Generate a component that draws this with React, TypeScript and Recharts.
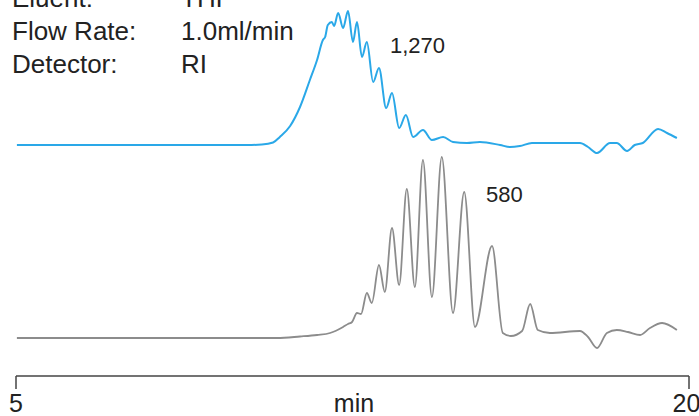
import { LineChart, Line, XAxis, YAxis, Customized } from "recharts";

// retention time (min) and detector signal above each trace's own baseline
const blueTime = [
  5.02, 10.15, 10.48, 10.73, 10.88, 11.11, 11.33, 11.55, 11.71, 11.84, 11.89, 11.95, 12.04, 12.09,
  12.18, 12.29, 12.4, 12.51, 12.6, 12.71, 12.82, 12.96, 13.09, 13.25, 13.38, 13.54, 13.69, 13.85, 14.07,
  14.27, 14.52, 14.74, 15.05, 15.34, 15.79, 16.01, 16.23, 16.5, 17.57, 17.75, 17.95, 18.24, 18.39, 18.62,
  18.79, 18.97, 19.31, 19.51, 19.73,
];
const blueSignal = [
  0, 0, 0.5, 2.5, 8, 19, 38, 65, 85, 105, 108, 120, 123, 119,
  132, 117, 134, 103, 123, 88, 103, 63, 77, 37, 52, 17, 30, 8, 15,
  5, 8, 3, 2, 3, 0, -2, -1, 2, 2, -2, -8, 2, 2, -6,
  0, 2, 16, 12, 7,
];

const grayTime = [
  5.02, 10.82, 11.33, 11.71, 12.0, 12.29, 12.4, 12.49, 12.6, 12.69, 12.82, 12.93, 13.09, 13.22, 13.38,
  13.54, 13.71, 13.89, 14.07, 14.27, 14.49, 14.74, 14.99, 15.23, 15.61, 15.85, 16.03, 16.28, 16.46, 16.63,
  16.9, 17.57, 17.75, 17.95, 18.17, 18.39, 18.64, 18.91, 19.13, 19.4, 19.73,
];
const graySignal = [
  0, 0, 1.5, 3, 5, 11, 14, 16, 25, 24, 45, 35, 73, 46, 110,
  53, 149, 51, 178, 41, 181, 25, 146, 11, 92, 5, 2, 7, 34, 8,
  5, 7, 1, -10, 5, 8, 6, 3, 10, 15, 8,
];

const xTicks = [5, 20];
const methodLabels = ["Eluent:", "Flow Rate:", "Detector:"];
const methodValues = ["THF", "1.0ml/min", "RI"];
const peakLabels = ["1,270", "580"];

const BLUE_BASE = 231;
const GRAY_BASE = 38;
const FONT = "'Liberation Sans', Arial, Helvetica, sans-serif";

const blueData = blueTime.map((t, i) => ({ t, v: blueSignal[i] + BLUE_BASE }));
const grayData = grayTime.map((t, i) => ({ t, v: graySignal[i] + GRAY_BASE }));

function Notes() {
  return (
    <g fontFamily={FONT} fill="#222">
      {methodLabels.map((m, i) => (
        <text key={m} x={12} y={7 + i * 33} fontSize={26}>
          {m}
        </text>
      ))}
      {methodValues.map((m, i) => (
        <text key={m} x={181} y={7 + i * 33} fontSize={26}>
          {m}
        </text>
      ))}
      <text x={390} y={53} fontSize={22}>
        {peakLabels[0]}
      </text>
      <text x={486} y={202} fontSize={22}>
        {peakLabels[1]}
      </text>
      <text x={354} y={412} fontSize={25} textAnchor="middle">
        min
      </text>
    </g>
  );
}

export default function App() {
  return (
    <div style={{ position: "absolute", left: 0, top: 0, fontFamily: FONT }}>
      <LineChart width={699} height={416} margin={{ top: 0, right: 10, bottom: 0, left: 16 }}>
        <XAxis
          dataKey="t"
          type="number"
          domain={[5, 20]}
          ticks={xTicks}
          allowDataOverflow
          height={40}
          tickSize={13}
          tickMargin={5}
          stroke="#444"
          strokeWidth={1.5}
          tick={{ fontSize: 25, fill: "#222", fontFamily: FONT }}
        />
        <YAxis hide domain={[0, 376]} type="number" allowDataOverflow />
        <Line
          data={blueData}
          dataKey="v"
          type="monotone"
          stroke="#2aa8e8"
          strokeWidth={2}
          dot={false}
          isAnimationActive={false}
        />
        <Line
          data={grayData}
          dataKey="v"
          type="monotone"
          stroke="#8c8c8c"
          strokeWidth={1.8}
          dot={false}
          isAnimationActive={false}
        />
        <Customized component={<Notes />} />
      </LineChart>
    </div>
  );
}
